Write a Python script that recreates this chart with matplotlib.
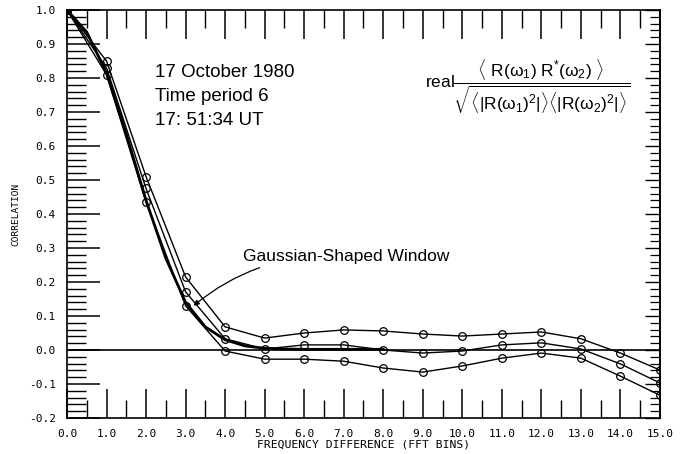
import numpy as np
import matplotlib.pyplot as plt
from matplotlib.ticker import MultipleLocator, NullFormatter

# correlation vs. frequency difference, three time windows
bins = [0, 1, 2, 3, 4, 5, 6, 7, 8, 9, 10, 11, 12, 13, 14, 15]
corr_upper = [1.0, 0.85, 0.51, 0.215, 0.068, 0.035, 0.05, 0.059, 0.056, 0.047,
              0.041, 0.047, 0.053, 0.033, -0.009, -0.059]
corr_middle = [1.0, 0.83, 0.475, 0.171, 0.033, 0.003, 0.015, 0.015, 0.0, -0.009,
               -0.003, 0.015, 0.021, 0.003, -0.041, -0.097]
corr_lower = [1.0, 0.81, 0.435, 0.13, -0.003, -0.027, -0.027, -0.033, -0.053, -0.065,
              -0.047, -0.024, -0.009, -0.024, -0.077, -0.133]

# gaussian-shaped window response
gauss_x = [0, 0.5, 1.0, 1.5, 2.0, 2.5, 3.0, 3.5, 4.0, 4.5, 5.0, 5.5, 6.0, 7.0, 8.0]
gauss_y = [1.0, 0.935, 0.815, 0.635, 0.44, 0.27, 0.14, 0.068, 0.03, 0.012, 0.005,
           0.003, 0.002, 0.002, 0.002]

x_ticks = np.arange(0, 15.5, 1.0)
y_ticks = np.arange(-0.2, 1.01, 0.1)

plt.rcParams['font.family'] = 'DejaVu Sans'
plt.rcParams['mathtext.fontset'] = 'custom'
plt.rcParams['mathtext.rm'] = 'Liberation Sans'
plt.rcParams['mathtext.it'] = 'Liberation Sans'
fig = plt.figure(figsize=(6.94, 4.54), dpi=100)
ax = fig.add_axes([0.0965, 0.0793, 0.8545, 0.8987])

for ys in (corr_upper, corr_middle, corr_lower):
    ax.plot(bins, ys, color='black', lw=1.0, marker='o', markersize=5.5,
            markerfacecolor='none', markeredgecolor='black', markeredgewidth=0.9)
ax.plot(gauss_x, gauss_y, color='black', lw=2.0)
ax.axhline(0, color='black', lw=1.2)

ax.set_xlim(0, 15)
ax.set_ylim(-0.2, 1.0)
ax.set_xticks(x_ticks)
ax.set_xticklabels([f'{v:.1f}' for v in x_ticks], family='DejaVu Sans Mono', fontsize=8)
ax.set_yticks(y_ticks)
ax.set_yticklabels([f'{v:.1f}' for v in y_ticks], family='DejaVu Sans Mono', fontsize=8)
ax.xaxis.set_minor_locator(MultipleLocator(0.5))
ax.yaxis.set_minor_locator(MultipleLocator(0.02))
ax.tick_params(which='major', direction='in', length=21, width=1.1, top=True, pad=8)
ax.tick_params(which='minor', direction='in', length=13, width=1.0, top=True)
ax.tick_params(axis='y', which='major', length=24, right=False)
ax.tick_params(axis='y', which='minor', length=14, right=False)
for side in ax.spines.values():
    side.set_linewidth(1.2)

# short inward ticks on the right edge
right = ax.secondary_yaxis('right')
right.set_yticks(y_ticks)
right.yaxis.set_minor_locator(MultipleLocator(0.02))
right.yaxis.set_major_formatter(NullFormatter())
right.tick_params(which='major', direction='in', length=11, width=1.0)
right.tick_params(which='minor', direction='in', length=7, width=0.9)
right.spines['right'].set_linewidth(1.2)

ax.set_xlabel('FREQUENCY DIFFERENCE (FFT BINS)', family='DejaVu Sans Mono',
              fontsize=8.2, labelpad=0)
ax.set_ylabel('CORRELATION', family='DejaVu Sans Mono', fontsize=6.8, labelpad=6)

ax.text(2.23, 0.745, '17 October 1980\nTime period 6\n17: 51:34 UT',
        family='Liberation Sans', fontsize=13.5, linespacing=1.55,
        va='center', ha='left')

ax.text(9.05, 0.775,
        r'real$\dfrac{\langle\ \mathrm{R}(\omega_1)\ \mathrm{R}^{*}(\omega_2)\ \rangle}'
        r'{\sqrt{\langle|\mathrm{R}(\omega_1)^2|\rangle\langle|\mathrm{R}(\omega_2)^2|\rangle}}$',
        family='Liberation Sans', fontsize=12.5, va='center', ha='left')

ax.annotate('Gaussian-Shaped Window', xy=(3.2, 0.13), xytext=(4.45, 0.275),
            family='Liberation Sans', fontsize=12.5, va='center', ha='left',
            arrowprops=dict(arrowstyle='-|>', color='black', lw=0.9,
                            connectionstyle='arc3,rad=0.2', shrinkA=2, shrinkB=0,
                            mutation_scale=8))

fig.savefig('out.png', dpi=100)
